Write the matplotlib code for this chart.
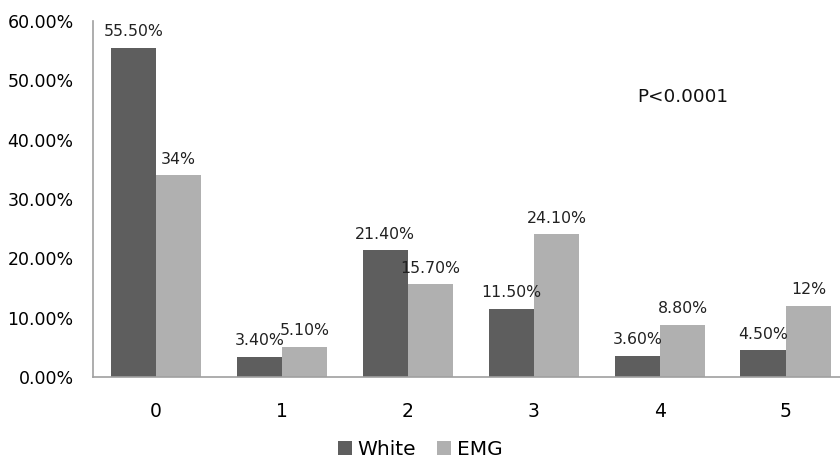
import numpy as np
import matplotlib.pyplot as plt

categories = ["0", "1", "2", "3", "4", "5"]
white = [55.5, 3.4, 21.4, 11.5, 3.6, 4.5]
emg = [34.0, 5.1, 15.7, 24.1, 8.8, 12.0]
white_labels = ["55.50%", "3.40%", "21.40%", "11.50%", "3.60%", "4.50%"]
emg_labels = ["34%", "5.10%", "15.70%", "24.10%", "8.80%", "12%"]
yticks = [0, 10, 20, 30, 40, 50, 60]
ytick_labels = ["0.00%", "10.00%", "20.00%", "30.00%", "40.00%", "50.00%", "60.00%"]

fig = plt.figure(figsize=(8.4, 4.58), dpi=100)
ax = fig.add_axes([93 / 840, 81 / 458, 1 - 93 / 840, 356 / 458])

x = np.arange(len(categories))
w = 0.36
b1 = ax.bar(x - w / 2, white, w, color="#5e5e5e", label="White")
b2 = ax.bar(x + w / 2, emg, w, color="#b0b0b0", label="EMG")

for bars, labels in [(b1, white_labels), (b2, emg_labels)]:
    for bar, lab in zip(bars, labels):
        ax.annotate(lab, (bar.get_x() + bar.get_width() / 2, bar.get_height()),
                    xytext=(0, 6), textcoords="offset points",
                    ha="center", va="bottom", fontsize=11.3, color="#222222")

ax.set_xlim(-0.5, 5.43)
ax.set_ylim(0, 60)
ax.set_xticks(x)
ax.set_xticklabels(categories, fontsize=13.5)
ax.set_yticks(yticks)
ax.set_yticklabels(ytick_labels, fontsize=12.5)
ax.tick_params(length=0, pad=14)
ax.tick_params(axis="x", pad=18)

for s in ["top", "right"]:
    ax.spines[s].set_visible(False)
ax.spines["left"].set_color("#a0a0a0")
ax.spines["bottom"].set_color("#a0a0a0")
ax.spines["left"].set_linewidth(1.2)
ax.spines["bottom"].set_linewidth(1.2)

ax.text(3.82, 47.2, "P<0.0001", fontsize=13.2, color="#111111", ha="left", va="center")

fig.legend(loc="lower center", bbox_to_anchor=(0.5, -0.042), ncol=2, frameon=False,
           fontsize=14.5, handlelength=0.7, handleheight=0.7, handletextpad=0.3,
           columnspacing=1.0)

fig.savefig("out.png", dpi=100)
